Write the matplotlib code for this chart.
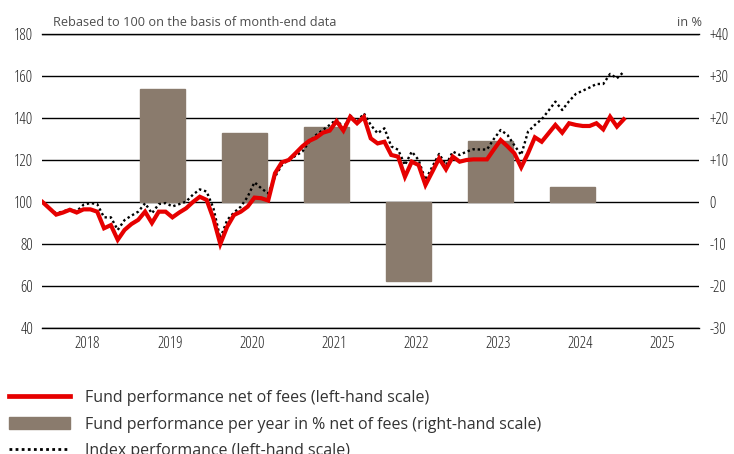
import numpy as np
import matplotlib
matplotlib.use('Agg')
import matplotlib.pyplot as plt
from matplotlib.lines import Line2D
from matplotlib.patches import Patch
from matplotlib.ticker import FixedLocator, FuncFormatter

# Month-end values, rebased to 100 (first point = start of 2018)
fund_values = [
    100, 97, 94, 95, 96.3, 95, 96.5, 96.5, 95.4, 87.5, 89, 82,
    86.7, 89.5, 91.5, 95.4, 90, 95.4, 95.4, 92.7, 95, 97, 100, 102.5,
    101, 92, 80, 88.2, 93.8, 95.4, 97.8, 102.1, 101.8, 100.7, 113.7, 118.9,
    120, 123.2, 126.5, 129.1, 130.6, 133, 134, 138.5, 134, 140.6, 137.5, 140.5,
    130.3, 127.9, 128.7, 122.4, 121.6, 112, 119.2, 117.6, 108.1, 114.4, 120.8, 115.6,
    121.6, 119.2, 120, 120.3, 120.3, 120.3, 125, 129.5, 126.5, 123.2, 116.5, 123.2,
    130.8, 128.7, 132.7, 136.7, 133, 137.5, 136.7, 136.2, 136.2, 137.5, 134.6, 140.6,
    135.9, 139.4,
]
index_values = [
    100, 97, 94.6, 95.5, 96.5, 95.6, 98.7, 99.5, 99, 92.7, 92.7, 86.7,
    91.4, 93.5, 95.4, 99.4, 94.6, 99, 99.5, 97.9, 99, 100.2, 103.5, 106,
    105, 97, 82.7, 91.4, 95, 97.8, 102.5, 109.4, 106.5, 104.1, 112, 117.6,
    120, 122, 124, 128.7, 131.9, 134.3, 136.7, 139.4, 135.1, 141.2, 138.2, 142.2,
    136.7, 132.7, 135.1, 126.5, 124.9, 117.6, 124, 120, 110.5, 116.8, 122.9, 117.6,
    124, 122.4, 124, 125.1, 125, 125, 130, 134.3, 131.9, 127, 122.4, 133.5,
    136.7, 139.4, 143.5, 147.8, 143.8, 148, 151.5, 153, 154.5, 156.2, 156.2, 161,
    158.9, 162,
]
bar_years = [2019, 2020, 2021, 2022, 2023, 2024]
bar_values = [27.0, 16.5, 17.9, -18.9, 14.6, 3.6]
year_labels = [2018, 2019, 2020, 2021, 2022, 2023, 2024, 2025]
left_ticks = [40, 60, 80, 100, 120, 140, 160, 180]
right_ticks = [-30, -20, -10, 0, 10, 20, 30, 40]

# Style
RED = '#e60000'
BAR_COLOUR = '#8a7b6d'
TEXT_COLOUR = '#333333'
TICK_COLOUR = '#222222'
NOTE_COLOUR = '#4d4d4d'
BAR_OFFSET = 0.46
BAR_WIDTH = 0.55

plt.rcParams['font.family'] = ['Open Sans', 'DejaVu Sans']
plt.rcParams['font.stretch'] = 'condensed'  # tick labels; other texts reset to normal

months = 2018 + np.arange(len(fund_values)) / 12

fig = plt.figure(figsize=(7.34, 4.54), dpi=100)
ax = fig.add_axes([0.0579, 0.2775, 0.8944, 0.6476])
ax2 = ax.twinx()

# bars on the right-hand scale (drawn first, behind the lines)
ax.bar([y + BAR_OFFSET for y in bar_years], bar_values, width=BAR_WIDTH,
       color=BAR_COLOUR, edgecolor=BAR_COLOUR, linewidth=1, zorder=2)
ax.set_ylim(-30, 40)
ax.yaxis.tick_right()
ax.yaxis.set_major_locator(FixedLocator(right_ticks))
ax.yaxis.set_major_formatter(FuncFormatter(lambda v, _p: '0' if v == 0 else f'{int(v):+d}'))
ax.grid(axis='y', color='black', linewidth=1.0)
ax.set_axisbelow(True)

# lines on the left-hand scale
ax2.plot(months, index_values, color='black', linewidth=1.7,
         linestyle=(0, (1, 1.2)), zorder=3)
ax2.plot(months, fund_values, color=RED, linewidth=3.0,
         solid_joinstyle='miter', zorder=4)
ax2.set_ylim(40, 180)
ax2.yaxis.tick_left()
ax2.yaxis.set_major_locator(FixedLocator(left_ticks))

ax.set_xlim(2018, 2026)
ax.xaxis.set_major_locator(FixedLocator([y + 0.55 for y in year_labels]))
ax.set_xticklabels([str(y) for y in year_labels])

for a in (ax, ax2):
    for s in a.spines.values():
        s.set_visible(False)
    a.tick_params(length=0, labelsize=11.5, colors=TICK_COLOUR)
ax.tick_params(axis='y', pad=7.7)
ax2.tick_params(axis='y', pad=6.5)
ax.tick_params(axis='x', pad=5.5)
for side in ('top', 'bottom'):
    ax.spines[side].set_visible(True)
    ax.spines[side].set_color('black')
    ax.spines[side].set_linewidth(1.0)

fig.text(53 / 734, 1 - 22 / 454, 'Rebased to 100 on the basis of month-end data',
         fontsize=9.2, color=NOTE_COLOUR, va='center', ha='left', fontstretch='normal')
fig.text(702 / 734, 1 - 22 / 454, 'in %', fontsize=9.2, color=NOTE_COLOUR,
         va='center', ha='right', fontstretch='normal')

handles = [
    Line2D([], [], color=RED, linewidth=3.4),
    Patch(facecolor=BAR_COLOUR, edgecolor=BAR_COLOUR),
    Line2D([], [], color='black', linewidth=2, linestyle=(0, (1, 1.2))),
]
labels = [
    'Fund performance net of fees (left-hand scale)',
    'Fund performance per year in % net of fees (right-hand scale)',
    'Index performance (left-hand scale)',
]
leg = fig.legend(handles, labels, loc='upper left', bbox_to_anchor=(9 / 734, 1 - 390 / 454),
                 frameon=False, prop={'size': 11.5, 'stretch': 'normal'},
                 handlelength=3.8, handletextpad=0.95, labelspacing=0.66,
                 borderpad=0, borderaxespad=0)
for t in leg.get_texts():
    t.set_color(TEXT_COLOUR)

fig.savefig('out.png', dpi=100)
